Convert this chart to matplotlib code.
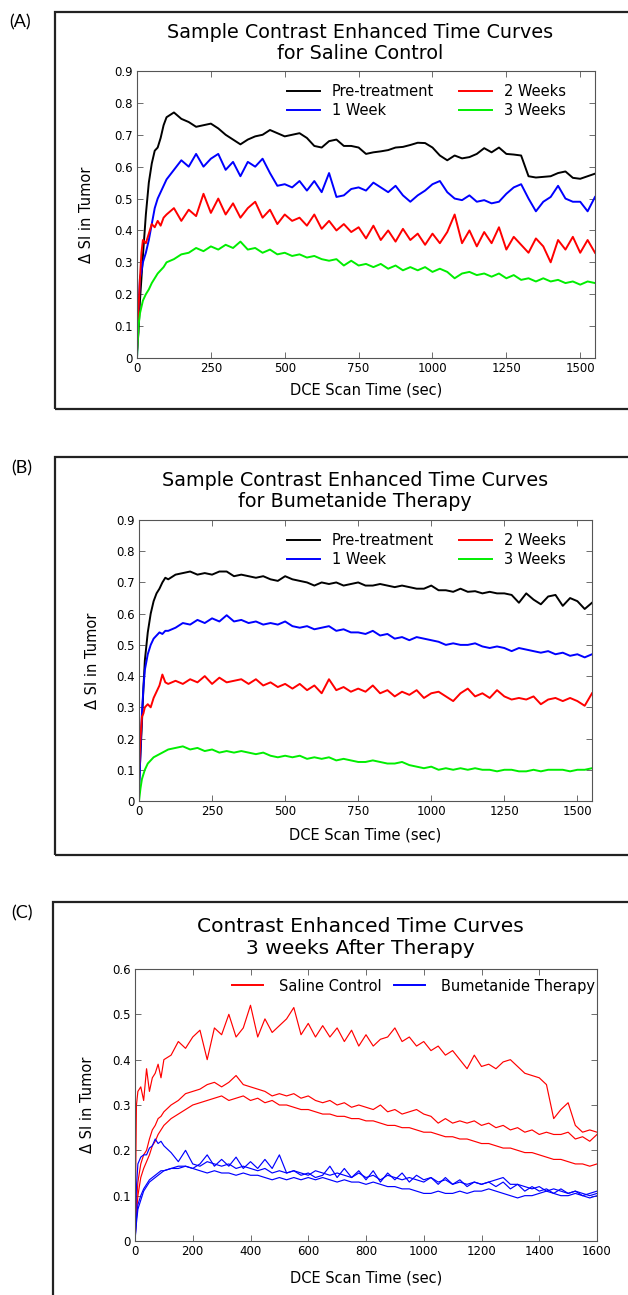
import numpy as np
import matplotlib
matplotlib.use("Agg")
import matplotlib.pyplot as plt
from matplotlib.patches import Rectangle

plt.rcParams['font.family'] = ['DejaVu Sans']

# time grids (sec)
t_ab = np.concatenate([[0, 5, 10, 15, 20, 30, 40, 50, 60, 70, 80, 90], np.arange(100, 1551, 25)])
t_c = np.concatenate([[0, 5, 10, 20, 30, 40, 50, 60, 70, 80, 90], np.arange(100, 1601, 25)])

# ---- (A) saline control
pre_a = [0.02, 0.08, 0.18, 0.25, 0.32, 0.45, 0.55, 0.61, 0.65, 0.66, 0.69, 0.73,
         0.755, 0.77, 0.75, 0.74, 0.725, 0.73, 0.735, 0.72, 0.70, 0.685,
         0.67, 0.685, 0.695, 0.70, 0.715, 0.705, 0.695, 0.70, 0.705, 0.69,
         0.665, 0.66, 0.68, 0.685, 0.665, 0.665, 0.66, 0.64, 0.645, 0.648,
         0.652, 0.66, 0.662, 0.668, 0.675, 0.674, 0.66, 0.635, 0.62, 0.635,
         0.626, 0.63, 0.64, 0.658, 0.645, 0.66, 0.64, 0.638, 0.635, 0.57,
         0.566, 0.568, 0.57, 0.58, 0.585, 0.565, 0.562, 0.57, 0.578]
wk1_a = [0.0, 0.15, 0.25, 0.27, 0.30, 0.33, 0.37, 0.42, 0.47, 0.50, 0.52, 0.54,
         0.56, 0.59, 0.62, 0.60, 0.64, 0.60, 0.625, 0.64, 0.59, 0.615,
         0.57, 0.615, 0.60, 0.625, 0.58, 0.54, 0.545, 0.535, 0.555, 0.525,
         0.555, 0.52, 0.58, 0.505, 0.51, 0.53, 0.535, 0.525, 0.55, 0.535,
         0.52, 0.54, 0.51, 0.49, 0.51, 0.525, 0.545, 0.555, 0.52, 0.50,
         0.495, 0.51, 0.49, 0.495, 0.485, 0.49, 0.515, 0.535, 0.545, 0.50,
         0.46, 0.49, 0.505, 0.54, 0.50, 0.49, 0.49, 0.46, 0.505]
wk2_a = [0.02, 0.15, 0.25, 0.33, 0.37, 0.36, 0.39, 0.42, 0.41, 0.43, 0.415, 0.44,
         0.45, 0.47, 0.43, 0.465, 0.445, 0.515, 0.455, 0.50, 0.45, 0.485,
         0.44, 0.47, 0.49, 0.44, 0.465, 0.42, 0.45, 0.43, 0.44, 0.415,
         0.45, 0.405, 0.43, 0.40, 0.42, 0.395, 0.41, 0.375, 0.415, 0.37,
         0.40, 0.365, 0.405, 0.37, 0.39, 0.355, 0.39, 0.36, 0.395, 0.45,
         0.36, 0.40, 0.35, 0.395, 0.36, 0.41, 0.34, 0.38, 0.355, 0.33,
         0.375, 0.35, 0.30, 0.37, 0.34, 0.38, 0.33, 0.37, 0.33]
wk3_a = [0.0, 0.10, 0.14, 0.16, 0.18, 0.20, 0.215, 0.235, 0.25, 0.265, 0.275, 0.285,
         0.30, 0.31, 0.325, 0.33, 0.345, 0.335, 0.35, 0.34, 0.355, 0.345,
         0.365, 0.34, 0.345, 0.33, 0.34, 0.325, 0.33, 0.32, 0.325, 0.315,
         0.32, 0.31, 0.305, 0.31, 0.29, 0.305, 0.29, 0.295, 0.285, 0.295,
         0.28, 0.29, 0.275, 0.285, 0.275, 0.285, 0.27, 0.28, 0.27, 0.25,
         0.265, 0.27, 0.26, 0.265, 0.255, 0.265, 0.25, 0.26, 0.245, 0.25,
         0.24, 0.25, 0.24, 0.245, 0.235, 0.24, 0.23, 0.24, 0.235]

# ---- (B) bumetanide therapy
pre_b = [0.05, 0.15, 0.25, 0.36, 0.45, 0.54, 0.60, 0.64, 0.665, 0.68, 0.70, 0.715,
         0.71, 0.725, 0.73, 0.735, 0.725, 0.73, 0.725, 0.735, 0.735, 0.72,
         0.725, 0.72, 0.715, 0.72, 0.71, 0.705, 0.72, 0.71, 0.705, 0.70,
         0.69, 0.70, 0.695, 0.70, 0.69, 0.695, 0.70, 0.69, 0.69, 0.695,
         0.69, 0.685, 0.69, 0.685, 0.68, 0.68, 0.69, 0.675, 0.675, 0.67,
         0.68, 0.67, 0.672, 0.665, 0.67, 0.665, 0.665, 0.66, 0.635, 0.665,
         0.645, 0.63, 0.655, 0.66, 0.625, 0.65, 0.64, 0.615, 0.635]
wk1_b = [0.02, 0.16, 0.28, 0.36, 0.42, 0.47, 0.50, 0.52, 0.53, 0.54, 0.535, 0.545,
         0.545, 0.555, 0.57, 0.565, 0.58, 0.57, 0.585, 0.575, 0.595, 0.575,
         0.58, 0.57, 0.575, 0.565, 0.57, 0.565, 0.575, 0.56, 0.555, 0.56,
         0.55, 0.555, 0.56, 0.545, 0.55, 0.54, 0.54, 0.535, 0.545, 0.53,
         0.535, 0.52, 0.525, 0.515, 0.525, 0.52, 0.515, 0.51, 0.50, 0.505,
         0.50, 0.50, 0.505, 0.495, 0.49, 0.495, 0.49, 0.48, 0.49, 0.485,
         0.48, 0.475, 0.48, 0.47, 0.475, 0.465, 0.47, 0.46, 0.47]
wk2_b = [0.10, 0.20, 0.27, 0.28, 0.30, 0.31, 0.30, 0.33, 0.35, 0.37, 0.405, 0.38,
         0.375, 0.385, 0.375, 0.39, 0.38, 0.40, 0.375, 0.395, 0.38, 0.385,
         0.39, 0.375, 0.39, 0.37, 0.38, 0.365, 0.375, 0.36, 0.375, 0.355,
         0.37, 0.345, 0.39, 0.355, 0.365, 0.35, 0.36, 0.35, 0.37, 0.345,
         0.355, 0.335, 0.35, 0.34, 0.355, 0.33, 0.345, 0.35, 0.335, 0.32,
         0.345, 0.36, 0.335, 0.345, 0.33, 0.355, 0.335, 0.325, 0.33, 0.325,
         0.335, 0.31, 0.325, 0.33, 0.32, 0.33, 0.32, 0.305, 0.345]
wk3_b = [0.0, 0.04, 0.07, 0.085, 0.10, 0.12, 0.13, 0.14, 0.145, 0.15, 0.155, 0.16,
         0.165, 0.17, 0.175, 0.165, 0.17, 0.16, 0.165, 0.155, 0.16, 0.155,
         0.16, 0.155, 0.15, 0.155, 0.145, 0.14, 0.145, 0.14, 0.145, 0.135,
         0.14, 0.135, 0.14, 0.13, 0.135, 0.13, 0.125, 0.125, 0.13, 0.125,
         0.12, 0.12, 0.125, 0.115, 0.11, 0.105, 0.11, 0.10, 0.105, 0.10,
         0.105, 0.10, 0.105, 0.10, 0.10, 0.095, 0.10, 0.10, 0.095, 0.095,
         0.10, 0.095, 0.10, 0.10, 0.10, 0.095, 0.10, 0.10, 0.105]

# ---- (C) 3 weeks after therapy, three animals each
sal_c1 = [0.0, 0.30, 0.33, 0.34, 0.31, 0.38, 0.33, 0.36, 0.37, 0.39, 0.36,
          0.40, 0.41, 0.44, 0.425, 0.45, 0.465, 0.40, 0.47, 0.455, 0.50,
          0.45, 0.47, 0.52, 0.45, 0.49, 0.46, 0.475, 0.49, 0.515, 0.455,
          0.48, 0.45, 0.475, 0.45, 0.47, 0.44, 0.465, 0.43, 0.455, 0.43,
          0.445, 0.45, 0.47, 0.44, 0.45, 0.43, 0.44, 0.42, 0.43, 0.41,
          0.42, 0.40, 0.38, 0.41, 0.385, 0.39, 0.38, 0.395, 0.40, 0.385,
          0.37, 0.365, 0.36, 0.345, 0.27, 0.29, 0.305, 0.255, 0.24, 0.245,
          0.24]
sal_c2 = [0.0, 0.08, 0.13, 0.17, 0.19, 0.20, 0.225, 0.245, 0.255, 0.27, 0.275,
          0.285, 0.30, 0.31, 0.325, 0.33, 0.335, 0.345, 0.35, 0.34, 0.35,
          0.365, 0.345, 0.34, 0.335, 0.33, 0.32, 0.325, 0.32, 0.325, 0.315,
          0.32, 0.31, 0.305, 0.31, 0.30, 0.305, 0.295, 0.30, 0.295, 0.29,
          0.30, 0.285, 0.29, 0.28, 0.285, 0.29, 0.28, 0.275, 0.26, 0.27,
          0.26, 0.265, 0.26, 0.265, 0.255, 0.26, 0.25, 0.255, 0.245, 0.25,
          0.24, 0.245, 0.235, 0.24, 0.235, 0.235, 0.24, 0.225, 0.23, 0.22,
          0.235]
sal_c3 = [0.0, 0.06, 0.10, 0.14, 0.16, 0.175, 0.19, 0.21, 0.22, 0.235, 0.245,
          0.255, 0.27, 0.28, 0.29, 0.30, 0.305, 0.31, 0.315, 0.32, 0.31,
          0.315, 0.32, 0.31, 0.315, 0.305, 0.31, 0.30, 0.30, 0.295, 0.29,
          0.29, 0.285, 0.28, 0.28, 0.275, 0.275, 0.27, 0.27, 0.265, 0.265,
          0.26, 0.255, 0.255, 0.25, 0.25, 0.245, 0.24, 0.24, 0.235, 0.23,
          0.23, 0.225, 0.225, 0.22, 0.215, 0.215, 0.21, 0.205, 0.205, 0.20,
          0.195, 0.195, 0.19, 0.185, 0.18, 0.18, 0.175, 0.17, 0.17, 0.165,
          0.17]
bum_c1 = [0.0, 0.12, 0.17, 0.185, 0.19, 0.19, 0.205, 0.21, 0.225, 0.215, 0.22,
          0.21, 0.195, 0.175, 0.20, 0.17, 0.165, 0.175, 0.17, 0.165, 0.17,
          0.16, 0.165, 0.16, 0.155, 0.16, 0.15, 0.155, 0.15, 0.155, 0.15,
          0.145, 0.155, 0.15, 0.145, 0.15, 0.145, 0.14, 0.15, 0.14, 0.145,
          0.135, 0.145, 0.14, 0.135, 0.14, 0.135, 0.13, 0.14, 0.13, 0.135,
          0.125, 0.13, 0.125, 0.13, 0.125, 0.13, 0.135, 0.14, 0.125, 0.125,
          0.12, 0.115, 0.12, 0.11, 0.115, 0.11, 0.105, 0.11, 0.105, 0.10,
          0.105]
bum_c2 = [0.0, 0.05, 0.08, 0.10, 0.115, 0.125, 0.135, 0.14, 0.145, 0.15, 0.155,
          0.155, 0.16, 0.165, 0.165, 0.16, 0.17, 0.19, 0.165, 0.18, 0.165,
          0.185, 0.16, 0.175, 0.16, 0.18, 0.16, 0.19, 0.15, 0.155, 0.145,
          0.15, 0.14, 0.145, 0.165, 0.14, 0.16, 0.14, 0.155, 0.135, 0.155,
          0.13, 0.15, 0.135, 0.15, 0.13, 0.145, 0.135, 0.14, 0.125, 0.14,
          0.125, 0.135, 0.12, 0.13, 0.125, 0.13, 0.12, 0.13, 0.115, 0.125,
          0.11, 0.12, 0.11, 0.115, 0.105, 0.115, 0.105, 0.11, 0.10, 0.105,
          0.11]
bum_c3 = [0.0, 0.04, 0.07, 0.09, 0.11, 0.12, 0.13, 0.135, 0.14, 0.145, 0.15,
          0.155, 0.16, 0.16, 0.165, 0.16, 0.155, 0.15, 0.155, 0.15, 0.15,
          0.145, 0.15, 0.145, 0.145, 0.14, 0.135, 0.14, 0.135, 0.14, 0.135,
          0.14, 0.135, 0.14, 0.135, 0.13, 0.135, 0.13, 0.13, 0.125, 0.13,
          0.125, 0.12, 0.12, 0.115, 0.115, 0.11, 0.105, 0.105, 0.11, 0.105,
          0.105, 0.11, 0.105, 0.11, 0.11, 0.115, 0.11, 0.105, 0.10, 0.095,
          0.10, 0.10, 0.105, 0.11, 0.105, 0.10, 0.10, 0.105, 0.10, 0.095,
          0.10]

week_labels = ['Pre-treatment', '1 Week', '2 Weeks', '3 Weeks']
week_colors = ['#000000', '#0000ff', '#ff0000', '#00ee00']

W, H = 628, 1295
fig = plt.figure(figsize=(W / 100, H / 100), dpi=100)


def px_axes(l, t, r, b):
    # pixel box -> figure fraction
    return [l / W, 1 - b / H, (r - l) / W, (b - t) / H]


def box(l, t, r, b):
    # panel frame; right edge (and bottom for C) run off the page like the original
    fig.add_artist(Rectangle((l / W, 1 - b / H), (r - l) / W, (b - t) / H,
                             transform=fig.transFigure, fill=False,
                             ec='#222222', lw=1.6, clip_on=True))


def style_axes(ax, xlab_y, ylab_x):
    for s in ax.spines.values():
        s.set_color('#555555')
        s.set_linewidth(0.8)
    ax.tick_params(direction='in', top=True, right=True, length=4,
                   width=0.6, color='#555555', labelsize=8.5, pad=3)
    ax.set_xlabel('DCE Scan Time (sec)', fontsize=10.5)
    ax.set_ylabel('Δ SI in Tumor', fontsize=10.5)
    ax.xaxis.set_label_coords(0.5, xlab_y)
    ax.yaxis.set_label_coords(ylab_x, 0.5)


def ytick_fmt(v):
    return '0' if abs(v) < 1e-9 else ('%.1f' % v)


# ---------------- (A)
box(55, 12, 640, 409)
fig.text(9 / W, 1 - 22 / H, '(A)', fontsize=13, va='center', family='Lato')
fig.text(360 / W, 1 - 43 / H, 'Sample Contrast Enhanced Time Curves\nfor Saline Control',
         ha='center', va='center', fontsize=13.8, linespacing=1.08)
ax1 = fig.add_axes(px_axes(137, 71, 595, 358))
for y, lab, c in zip([pre_a, wk1_a, wk2_a, wk3_a], week_labels, week_colors):
    ax1.plot(t_ab, y, color=c, lw=1.4, label=lab)
ax1.set_xlim(0, 1550)
ax1.set_ylim(0, 0.9)
ax1.set_xticks(np.arange(0, 1501, 250))
yt = np.arange(0, 0.91, 0.1)
ax1.set_yticks(yt)
ax1.set_yticklabels([ytick_fmt(v) for v in yt])
style_axes(ax1, -0.087, -0.094)
ax1.legend(ncol=2, loc='upper right', frameon=False, fontsize=10.5,
           handlelength=2.3, columnspacing=1.7, labelspacing=0.28,
           handletextpad=0.8, borderpad=0, borderaxespad=0,
           bbox_to_anchor=((566 - 137) / 458, 0.955))

# ---------------- (B)
box(55, 457, 640, 855)
fig.text(11 / W, 1 - 468 / H, '(B)', fontsize=13, va='center', family='Lato')
fig.text(355 / W, 1 - 491 / H, 'Sample Contrast Enhanced Time Curves\nfor Bumetanide Therapy',
         ha='center', va='center', fontsize=13.8, linespacing=1.08)
ax2 = fig.add_axes(px_axes(139, 520, 592, 801))
for y, lab, c in zip([pre_b, wk1_b, wk2_b, wk3_b], week_labels, week_colors):
    ax2.plot(t_ab, y, color=c, lw=1.4, label=lab)
ax2.set_xlim(0, 1550)
ax2.set_ylim(0, 0.9)
ax2.set_xticks(np.arange(0, 1501, 250))
ax2.set_yticks(yt)
ax2.set_yticklabels([ytick_fmt(v) for v in yt])
style_axes(ax2, -0.096, -0.086)
ax2.legend(ncol=2, loc='upper right', frameon=False, fontsize=10.5,
           handlelength=2.3, columnspacing=1.7, labelspacing=0.28,
           handletextpad=0.8, borderpad=0, borderaxespad=0,
           bbox_to_anchor=((566 - 139) / 453, 0.955))

# ---------------- (C)
box(53, 902, 640, 1310)
fig.text(11 / W, 1 - 913 / H, '(C)', fontsize=13, va='center', family='Lato')
fig.text(360 / W, 1 - 938 / H, 'Contrast Enhanced Time Curves\n3 weeks After Therapy',
         ha='center', va='center', fontsize=14.6, linespacing=1.2)
ax3 = fig.add_axes(px_axes(135, 969, 597, 1241))
for i, y in enumerate([sal_c1, sal_c2, sal_c3]):
    ax3.plot(t_c, y, color='#ff0000', lw=0.85, label='Saline Control' if i == 0 else None)
for i, y in enumerate([bum_c1, bum_c2, bum_c3]):
    ax3.plot(t_c, y, color='#0000ff', lw=0.85, label='Bumetanide Therapy' if i == 0 else None)
ax3.set_xlim(0, 1600)
ax3.set_ylim(0, 0.6)
ax3.set_xticks(np.arange(0, 1601, 200))
yt3 = np.arange(0, 0.61, 0.1)
ax3.set_yticks(yt3)
ax3.set_yticklabels([ytick_fmt(v) for v in yt3])
style_axes(ax3, -0.110, -0.087)
leg = ax3.legend(ncol=2, loc='upper right', frameon=False, fontsize=10.5,
                 handlelength=2.1, columnspacing=0.9, handletextpad=1.1,
                 borderpad=0, borderaxespad=0,
                 bbox_to_anchor=((595 - 135) / 462, 0.965))
for h in leg.legend_handles:
    h.set_linewidth(1.4)

fig.savefig('out.png', dpi=100)
